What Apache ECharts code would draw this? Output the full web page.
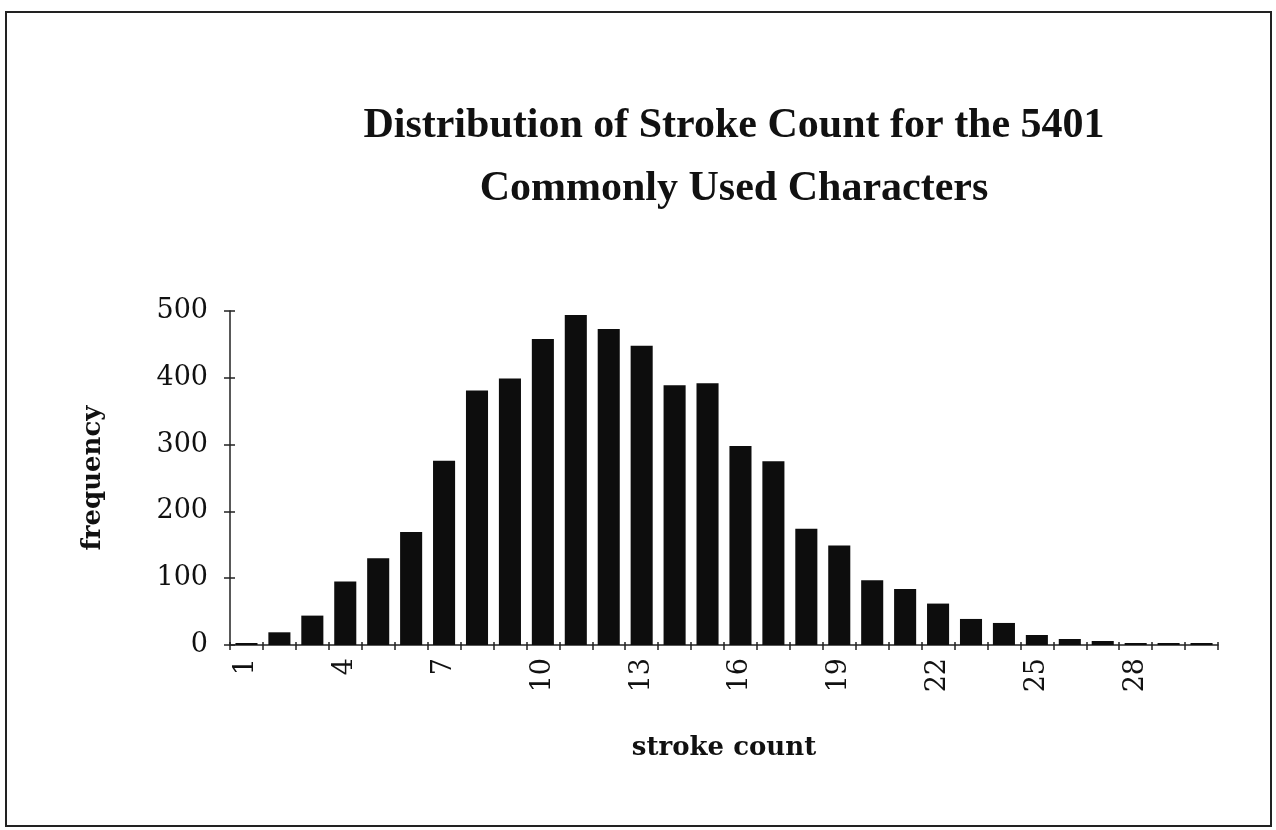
<!DOCTYPE html>
<html>
<head>
<meta charset="utf-8">
<script src="https://cdn.jsdelivr.net/npm/echarts@6/dist/echarts.min.js"></script>
<style>
html,body{margin:0;padding:0;background:#fff;}
#chart{width:1276px;height:830px;}
</style>
</head>
<body>
<div id="chart"></div>
<script>
// Data
const strokeCounts = ['1','2','3','4','5','6','7','8','9','10','11','12','13','14','15','16','17','18','19','20','21','22','23','24','25','26','27','28','29','30'];
const frequency = [3,19,44,95,130,169,276,381,399,458,494,473,448,389,392,298,275,174,149,97,84,62,39,33,15,9,6,3,3,3];
const yTicks = [0,100,200,300,400,500];
const titleLines = ['Distribution of Stroke Count for the 5401','Commonly Used Characters'];

const chart = echarts.init(document.getElementById('chart'));
const serif = '"DejaVu Serif", serif';
const axisColor = '#222';

chart.setOption({
  backgroundColor: '#fff',
  animation: false,
  title: {
    text: titleLines.join('\n'),
    left: 729, top: 90,
    textAlign: 'center',
    textStyle: {
      fontFamily: '"Liberation Serif", serif',
      fontWeight: 'bold',
      fontSize: 42,
      lineHeight: 63,
      color: '#111'
    }
  },
  graphic: [{
    type: 'rect',
    shape: {x: 6, y: 12, width: 1265, height: 814},
    style: {fill: 'none', stroke: '#222', lineWidth: 2},
    silent: true
  }],
  grid: {left: 230, right: 58, top: 311, bottom: 185, containLabel: false},
  xAxis: [{
    type: 'category',
    data: strokeCounts,
    boundaryGap: true,
    name: 'stroke count',
    nameLocation: 'middle',
    nameGap: 90,
    nameTextStyle: {fontFamily: serif, fontWeight: 'bold', fontSize: 26, color: '#111'},
    axisLine: {lineStyle: {color: axisColor, width: 1.5}},
    axisTick: {show: true, length: 5, alignWithLabel: false, interval: 0, lineStyle: {color: axisColor, width: 1.5}},
    axisLabel: {
      interval: 2,
      rotate: 90,
      margin: 13,
      fontFamily: serif,
      fontSize: 27,
      color: '#111'
    },
    splitLine: {show: false}
  }, {
    type: 'category',
    data: strokeCounts,
    position: 'bottom',
    boundaryGap: true,
    axisLine: {show: false},
    axisTick: {show: true, inside: true, length: 3, interval: 0, lineStyle: {color: axisColor, width: 1.5}},
    axisLabel: {show: false},
    splitLine: {show: false}
  }],
  yAxis: [{
    type: 'value',
    min: 0, max: 500, interval: 100,
    name: 'frequency',
    nameLocation: 'middle',
    nameRotate: 90,
    nameGap: 124,
    nameTextStyle: {fontFamily: serif, fontWeight: 'bold', fontSize: 26, color: '#111'},
    axisLine: {show: true, lineStyle: {color: axisColor, width: 1.5}},
    axisTick: {show: true, length: 6, lineStyle: {color: axisColor, width: 1.5}},
    axisLabel: {
      margin: 22,
      fontFamily: serif,
      fontSize: 27,
      color: '#111',
      formatter: v => yTicks.includes(v) ? String(v) : ''
    },
    splitLine: {show: false}
  }, {
    type: 'value',
    min: 0, max: 500, interval: 100,
    position: 'left',
    axisLine: {show: false},
    axisTick: {show: true, inside: true, length: 5, lineStyle: {color: axisColor, width: 1.5}},
    axisLabel: {show: false},
    splitLine: {show: false}
  }],
  series: [{
    type: 'bar',
    data: frequency,
    xAxisIndex: 0,
    yAxisIndex: 0,
    barCategoryGap: '33%',
    itemStyle: {color: '#0d0d0d'}
  }]
});
</script>
</body>
</html>
